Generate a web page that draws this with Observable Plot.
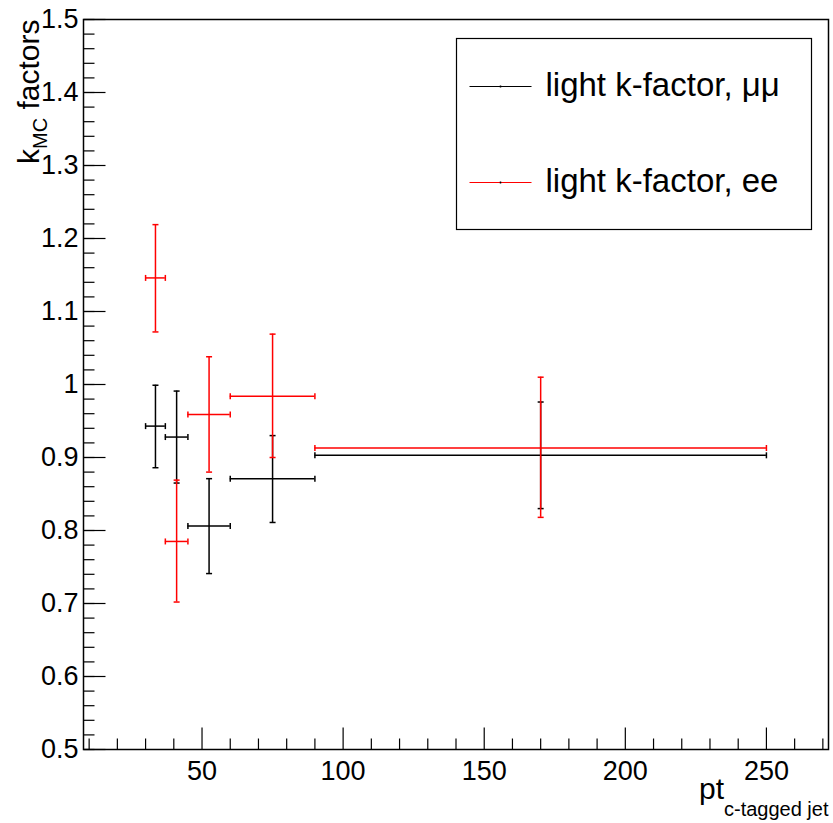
<!DOCTYPE html>
<html><head><meta charset="utf-8">
<script src="https://cdn.jsdelivr.net/npm/d3@7"></script>
<script src="https://cdn.jsdelivr.net/npm/@observablehq/plot@0.6"></script>
<style>html,body{margin:0;padding:0;background:#fff;overflow:hidden}</style>
</head><body><div id="chart"></div>
<script>
// ---- data ----
const binCenter = [33.5, 41, 52.5, 75, 170];
const binLow    = [30, 37, 45, 60, 90];
const binHigh   = [37, 45, 60, 90, 250];

const muValue = [0.943, 0.928, 0.806, 0.871, 0.903];
const muErrLo = [0.886, 0.865, 0.741, 0.811, 0.830];
const muErrHi = [0.999, 0.991, 0.871, 0.930, 0.976];

const eeValue = [1.146, 0.785, 0.959, 0.984, 0.913];
const eeErrLo = [1.072, 0.702, 0.880, 0.900, 0.818];
const eeErrHi = [1.219, 0.869, 1.038, 1.069, 1.010];

const seriesNames  = ["light k-factor, \u03bc\u03bc", "light k-factor, ee"];
const seriesColors = ["#000000", "#ff0000"];

const xMajorTicks = [50, 100, 150, 200, 250];
const xTickLabels = ["50", "100", "150", "200", "250"];
const xMinorTicks = [10,20,30,40,60,70,80,90,110,120,130,140,160,170,180,190,210,220,230,240,260,270];
const yMajorTicks = [0.5,0.6,0.7,0.8,0.9,1.0,1.1,1.2,1.3,1.4,1.5];
const yTickLabels = ["0.5","0.6","0.7","0.8","0.9","1","1.1","1.2","1.3","1.4","1.5"];
const yMinorTicks = d3.range(25, 76).map(i => i / 50);

const xTitleMain = "pt", xTitleSub = "c-tagged jet";
const yTitleMain = "k", yTitleSub = "MC", yTitleRest = " factors";

// ---- tables ----
const mkRows = (v, lo, hi) => binCenter.map((x, i) => ({x, xl: binLow[i], xh: binHigh[i], y: v[i], lo: lo[i], hi: hi[i]}));
const series = [mkRows(muValue, muErrLo, muErrHi), mkRows(eeValue, eeErrLo, eeErrHi)];

// custom line-segment symbols
const seg = (x0, y0, x1, y1) => ({draw(ctx) { ctx.moveTo(x0, y0); ctx.lineTo(x1, y1); }});
const hCap = seg(-3, 0, 3, 0), vCap = seg(0, -3, 0, 3);
const yTickMaj = seg(0, 0, 22, 0), yTickMin = seg(0, 0, 11, 0);
const xTickMaj = seg(0, 0, 0, -22), xTickMin = seg(0, 0, 0, -11);
const legLine = seg(-31, 0, 31, 0);
const legMark = seg(0, -1, 0, 1);

const font = "'Liberation Sans', Arial, Helvetica, sans-serif";
const SW = 1.5;

const marks = [];
series.forEach((rows, k) => {
  const c = seriesColors[k];
  marks.push(
    Plot.ruleY(rows, {y: "y", x1: "xl", x2: "xh", stroke: c, strokeWidth: SW}),
    Plot.ruleX(rows, {x: "x", y1: "lo", y2: "hi", stroke: c, strokeWidth: SW}),
    Plot.dot(rows, {x: "x", y: "lo", symbol: hCap, stroke: c, fill: "none", strokeWidth: SW}),
    Plot.dot(rows, {x: "x", y: "hi", symbol: hCap, stroke: c, fill: "none", strokeWidth: SW}),
    Plot.dot(rows, {x: "xl", y: "y", symbol: vCap, stroke: c, fill: "none", strokeWidth: SW}),
    Plot.dot(rows, {x: "xh", y: "y", symbol: vCap, stroke: c, fill: "none", strokeWidth: SW})
  );
});

// axes ticks, labels, titles
marks.push(
  Plot.dot(yMinorTicks, {y: d => d, frameAnchor: "left", symbol: yTickMin, stroke: "black", fill: "none", strokeWidth: 1.2}),
  Plot.dot(yMajorTicks, {y: d => d, frameAnchor: "left", symbol: yTickMaj, stroke: "black", fill: "none", strokeWidth: 1.2}),
  Plot.dot(xMinorTicks, {x: d => d, frameAnchor: "bottom", symbol: xTickMin, stroke: "black", fill: "none", strokeWidth: 1.2}),
  Plot.dot(xMajorTicks, {x: d => d, frameAnchor: "bottom", symbol: xTickMaj, stroke: "black", fill: "none", strokeWidth: 1.2}),
  Plot.text(yMajorTicks, {y: d => d, text: (d, i) => yTickLabels[i], frameAnchor: "left", textAnchor: "end", dx: -5, fontSize: 27, fill: "black"}),
  Plot.text(xMajorTicks, {x: d => d, text: (d, i) => xTickLabels[i], frameAnchor: "bottom", lineAnchor: "top", dy: 11, fontSize: 27, fill: "black"}),
  Plot.frame({stroke: "black", strokeWidth: 1.5}),
  Plot.text([yTitleMain + yTitleSub + yTitleRest], {frameAnchor: "top-left", rotate: -90, textAnchor: "end", lineAnchor: "bottom", dx: -45, dy: 0, fontSize: 30, fill: "black"}),
  Plot.text([xTitleMain + xTitleSub], {frameAnchor: "bottom-right", textAnchor: "end", lineAnchor: "bottom", dx: 0, dy: 49, fontSize: 30, fill: "black"}),
  // legend
  Plot.frame({insetLeft: 373, insetRight: 17, insetTop: 19, insetBottom: 520, fill: "white", stroke: "black", strokeWidth: 1.2})
);
seriesNames.forEach((name, k) => {
  marks.push(
    Plot.dot([name], {frameAnchor: "top-left", dx: 417, dy: 67 + 96 * k, symbol: legLine, stroke: seriesColors[k], fill: "none", strokeWidth: 1.2}),
    Plot.dot([name], {frameAnchor: "top-left", dx: 417, dy: 67 + 96 * k, symbol: legMark, stroke: "black", fill: "none", strokeWidth: 1.5}),
    Plot.text([name], {frameAnchor: "top-left", dx: 462, dy: 76 + 96.5 * k, textAnchor: "start", lineAnchor: "bottom", fontSize: 33, fill: "black"})
  );
});

const svg = Plot.plot({
  width: 833,
  height: 823,
  marginLeft: 83,
  marginRight: 5,
  marginTop: 19,
  marginBottom: 74,
  style: {fontFamily: font, background: "white"},
  x: {domain: [8, 272], axis: null},
  y: {domain: [0.5, 1.5], axis: null},
  marks
});

// subscripts via tspans
function findText(str) {
  return d3.select(svg).selectAll("text").filter(function () { return this.textContent === str; });
}
const yt = findText(yTitleMain + yTitleSub + yTitleRest).style("white-space", "pre");
yt.text(null);
yt.append("tspan").text(yTitleMain);
yt.append("tspan").attr("dy", 8).attr("font-size", 20).text(yTitleSub);
yt.append("tspan").attr("dy", -8).text(yTitleRest);

const xt = findText(xTitleMain + xTitleSub).style("white-space", "pre");
xt.text(null);
xt.append("tspan").text(xTitleMain);
xt.append("tspan").attr("dy", 17).attr("font-size", 20).text(xTitleSub);

document.getElementById("chart").appendChild(svg);
</script>
</body></html>
